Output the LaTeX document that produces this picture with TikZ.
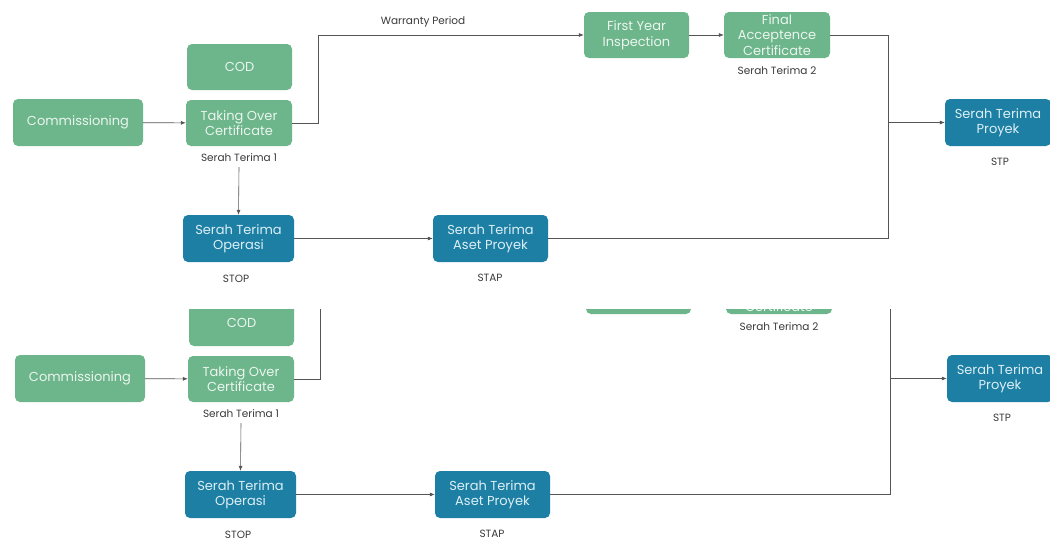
\documentclass[tikz,border=0pt]{standalone}
\usepackage{fontspec}
\setmainfont{Poppins}
\usetikzlibrary{arrows.meta}
\definecolor{gbox}{HTML}{6DB58A}
\definecolor{bbox}{HTML}{1C7FA3}
\definecolor{gtxt}{HTML}{EAF6EF}
\definecolor{btxt}{HTML}{DDEFF6}
\definecolor{lbl}{HTML}{3A3A3A}
\definecolor{ln}{HTML}{555555}
\tikzset{
  box/.style={rounded corners=5pt, inner sep=0pt, align=center,
    font=\fontsize{13}{15.5}\selectfont},
  gnode/.style={box, fill=gbox, text=gtxt},
  bnode/.style={box, fill=bbox, text=btxt},
  note/.style={text=lbl, font=\fontsize{10.5}{12}\selectfont, inner sep=1pt},
  conn/.style={draw=ln, line width=0.6pt},
  arr/.style={conn, -{Latex[length=5pt,width=4pt]}}
}
\newcommand\flowdiagram[1]{%
  \node[gnode, minimum width=130pt, minimum height=47pt] (#1com) at (78,122.5) {Commissioning};
  \node[gnode, minimum width=105pt, minimum height=46pt] (#1cod) at (239.5,67) {COD};
  \node[gnode, minimum width=106pt, minimum height=46pt] (#1toc) at (239,123) {Taking Over\\Certificate};
  \node[bnode, minimum width=111pt, minimum height=47pt] (#1sto) at (238.5,238.5) {Serah Terima\\Operasi};
  \node[bnode, minimum width=115pt, minimum height=47pt] (#1sta) at (490.5,238.5) {Serah Terima\\Aset Proyek};
  \node[gnode, minimum width=105pt, minimum height=46pt] (#1fyi) at (636.5,35) {First Year\\Inspection};
  \node[gnode, minimum width=106pt, minimum height=46pt] (#1fac) at (777,35) {Final\\Acceptence\\Certificate};
  \node[bnode, minimum width=106pt, minimum height=47pt] (#1stp) at (998,122.5) {Serah Terima\\Proyek};
  \node[note] (#1l1) at (239,158) {Serah Terima 1};
  \node[note] (#1l2) at (777,71) {Serah Terima 2};
  \node[note] (#1l3) at (236,279) {STOP};
  \node[note] (#1l4) at (490,278) {STAP};
  \node[note] (#1l5) at (1000,162) {STP};
  \node[note] (#1wp) at (423,22) {Warranty Period};
  \coordinate (#1j1) at (318,123);
  \coordinate (#1j2) at (888,238.5);
  \draw[arr] (#1com) -- (#1toc);
  \draw[arr] (#1toc.east) -- (#1j1) |- (#1fyi.west);
  \draw[arr] (#1fyi) -- (#1fac);
  \draw[conn] (#1fac.east) -| (#1j2);
  \draw[conn] (#1sta.east) -- (#1j2);
  \draw[arr] (#1j2 |- #1stp.west) -- (#1stp.west);
  \draw[arr] ([yshift=-4pt]#1l1.south) -- (#1sto.north);
  \draw[arr] (#1sto) -- (#1sta);
}
\begin{document}
\begin{tikzpicture}[x=1pt,y=-1pt]
  \useasboundingbox[fill=white] (0,0) rectangle (1050,541);
  \begin{scope}
    \clip (0,0) rectangle (1050,300);
    \flowdiagram{a}
  \end{scope}
  \begin{scope}
    \clip (0,309) rectangle (1050,541);
    \begin{scope}[shift={(2,256)}]
      \flowdiagram{b}
    \end{scope}
  \end{scope}
\end{tikzpicture}
\end{document}
